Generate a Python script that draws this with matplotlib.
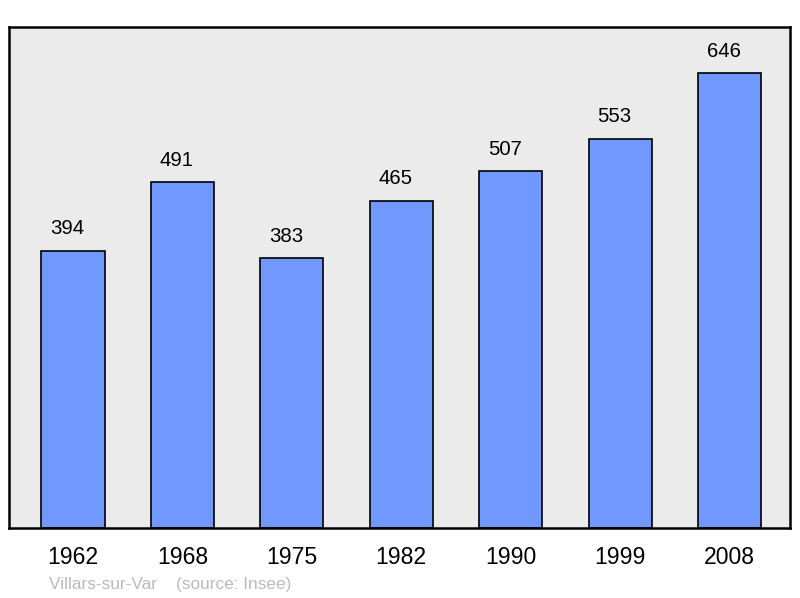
import matplotlib
matplotlib.use("Agg")
import matplotlib.pyplot as plt

years = ["1962", "1968", "1975", "1982", "1990", "1999", "2008"]
population = [394, 491, 383, 465, 507, 553, 646]

plt.rcParams['font.family'] = ['Liberation Sans', 'DejaVu Sans']

fig = plt.figure(figsize=(8, 5.98), dpi=100)
ax = fig.add_axes([9/800, 1 - 528/598, 781/800, 501/598])
ax.set_facecolor("#ebebeb")

x = list(range(len(years)))
ax.bar(x, population, width=0.576, color="#7098ff", edgecolor="black", linewidth=1.2, zorder=2)
for xi, v in zip(x, population):
    ax.annotate(str(v), (xi, v), xytext=(-4, 9), textcoords="offset points",
                ha="center", va="bottom", fontsize=14.7)

ax.set_xlim(-0.585, 6.553)
ax.set_ylim(0, 711.6)
ax.set_xticks(x)
ax.set_xticklabels(years, fontsize=16.6)
ax.tick_params(axis="x", length=0, pad=13)
ax.set_yticks([])
for s in ax.spines.values():
    s.set_linewidth(1.8)
    s.set_color("black")

fig.text(49/800, 1 - 584/598, "Villars-sur-Var    (source: Insee)", color="#bbbbbb",
         fontsize=12.4, ha="left", va="center")

fig.savefig("out.png", dpi=100)
